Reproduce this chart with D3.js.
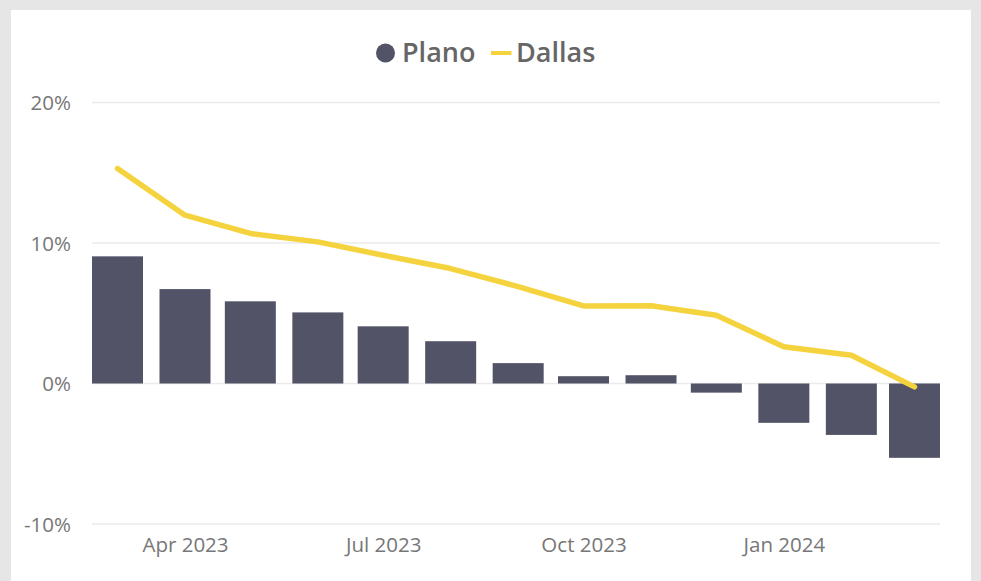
<!DOCTYPE html>
<html>
<head>
<meta charset="utf-8">
<script src="https://cdn.jsdelivr.net/npm/d3@7"></script>
<style>
  html, body { margin: 0; padding: 0; background: #e6e6e6; }
  svg { display: block; }
</style>
</head>
<body>
<svg id="chart" width="981" height="581"></svg>
<script>
// ---- data ----
const months = ["2023-03","2023-04","2023-05","2023-06","2023-07","2023-08","2023-09","2023-10","2023-11","2023-12","2024-01","2024-02","2024-03"];
const plano  = [9.05, 6.72, 5.85, 5.06, 4.07, 3.01, 1.45, 0.52, 0.59, -0.65, -2.80, -3.66, -5.29];
const dallas = [15.3, 11.98, 10.68, 10.08, 9.13, 8.18, 6.9, 5.52, 5.54, 4.86, 2.61, 2.01, -0.24];
const xTicks = ["2023-04","2023-07","2023-10","2024-01"];
const xTickLabels = ["Apr 2023","Jul 2023","Oct 2023","Jan 2024"];
const yTicks = [-10, 0, 10, 20];
const yTickLabels = ["-10%","0%","10%","20%"];
const seriesNames = ["Plano","Dallas"];
const colors = { Plano: "#525367", Dallas: "#F5D33F" };

const parse = d3.timeParse("%Y-%m");
const dates = months.map(parse);

const svg = d3.select("#chart");
svg.append("rect").attr("x", 11).attr("y", 10).attr("width", 960).attr("height", 600).attr("fill", "#ffffff");

const plotLeft = 92, plotRight = 940;
const x = d3.scaleTime().domain([dates[0], dates[dates.length - 1]]).range([117.5, 914.5]);
const y = d3.scaleLinear().domain([-10, 20]).range([524, 102.5]);
const barW = 51;

// gridlines
svg.append("g").selectAll("line").data(yTicks).join("line")
  .attr("x1", plotLeft).attr("x2", plotRight)
  .attr("y1", d => y(d)).attr("y2", d => y(d))
  .attr("stroke", "#ebebeb").attr("stroke-width", 1.5);

// y axis labels
const yAxis = d3.axisLeft(y).tickValues(yTicks).tickSize(0).tickPadding(0)
  .tickFormat((d, i) => yTickLabels[i]);
const gy = svg.append("g").attr("transform", "translate(71,0)").call(yAxis);
gy.select(".domain").remove();
gy.selectAll("text").attr("fill", "#777777").style("font-family", "'Open Sans', 'Noto Sans', sans-serif").style("font-size", "20.5px").attr("dy", "0.35em");

// x axis labels
const xAxis = d3.axisBottom(x).tickValues(xTicks.map(parse)).tickSize(0).tickPadding(0)
  .tickFormat((d, i) => xTickLabels[i]);
const gx = svg.append("g").attr("transform", "translate(0,545)").call(xAxis);
gx.select(".domain").remove();
gx.selectAll("text").attr("fill", "#777777").style("font-family", "'Open Sans', 'Noto Sans', sans-serif").style("font-size", "20.5px").attr("dy", "0.35em");

// bars
svg.append("g").selectAll("rect").data(plano).join("rect")
  .attr("x", (d, i) => x(dates[i]) - barW / 2)
  .attr("width", barW)
  .attr("y", d => Math.min(y(d), y(0)))
  .attr("height", d => Math.abs(y(d) - y(0)))
  .attr("fill", colors.Plano);

// line
const line = d3.line().x((d, i) => x(dates[i])).y(d => y(d));
svg.append("path").datum(dallas)
  .attr("d", line)
  .attr("fill", "none")
  .attr("stroke", colors.Dallas)
  .attr("stroke-width", 5.5)
  .attr("stroke-linejoin", "round")
  .attr("stroke-linecap", "round");

// legend
const lg = svg.append("g").style("font-family", "'Open Sans', 'Noto Sans', sans-serif").style("font-size", "27px").style("font-weight", 600);
lg.append("circle").attr("cx", 385.5).attr("cy", 53).attr("r", 9.5).attr("fill", colors.Plano);
lg.append("text").attr("x", 402).attr("y", 53).attr("dy", "0.35em").attr("fill", "#666666").text(seriesNames[0]);
lg.append("line").attr("x1", 491).attr("x2", 511.5).attr("y1", 53).attr("y2", 53).attr("stroke", colors.Dallas).attr("stroke-width", 4);
lg.append("text").attr("x", 516).attr("y", 53).attr("dy", "0.35em").attr("fill", "#666666").text(seriesNames[1]);
</script>
</body>
</html>
